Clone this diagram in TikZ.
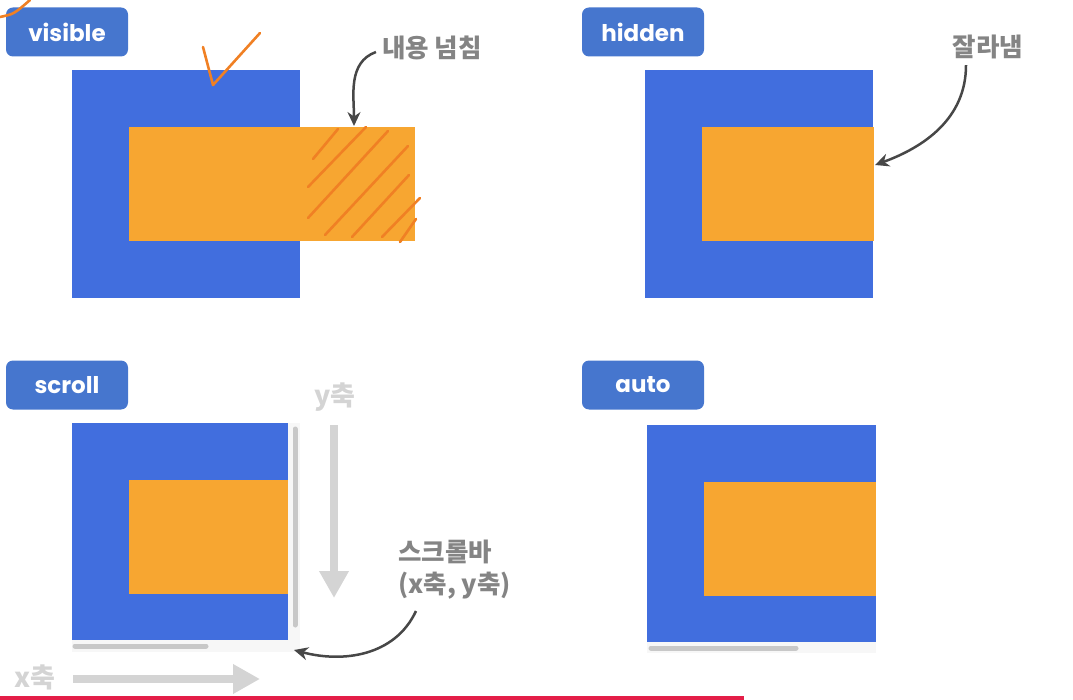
\documentclass[tikz,border=0pt]{standalone}
\usepackage{fontspec}
\setmainfont{Noto Sans CJK KR}
\newfontfamily\tagfont{Poppins}
\usetikzlibrary{positioning, arrows.meta}
\definecolor{tagblue}{RGB}{70,118,206}
\definecolor{boxblue}{RGB}{65,110,222}
\definecolor{boxorange}{RGB}{247,166,49}
\definecolor{notegray}{RGB}{132,132,132}
\definecolor{axisgray}{RGB}{212,212,212}
\definecolor{bargray}{RGB}{200,200,200}
\definecolor{panegray}{RGB}{247,247,247}
\definecolor{penorange}{RGB}{240,128,36}
\definecolor{barred}{RGB}{228,30,72}
\tikzset{
  tag/.style={
    rounded corners=7pt,
    fill=tagblue,
    text=white,
    minimum width=122pt,
    minimum height=49pt,
    inner sep=0pt,
    font=\tagfont\bfseries\fontsize{23}{25}\selectfont
  },
  outer/.style={
    fill=boxblue,
    anchor=north west,
    inner sep=0pt,
    minimum width=228pt,
    minimum height=228pt
  },
  inner/.style={
    fill=boxorange,
    anchor=north west,
    inner sep=0pt,
    minimum height=114pt
  },
  note/.style={
    text=notegray,
    inner sep=2pt,
    font=\bfseries\fontsize{25.5}{32}\selectfont
  },
  axisnote/.style={
    text=axisgray,
    inner sep=0pt,
    font=\bfseries\fontsize{27}{28}\selectfont
  },
  pointer/.style={
    draw=black!72,
    line width=2.5pt,
    -{Stealth[length=14pt,width=13pt]}
  },
  axisarrow/.style={
    draw=axisgray,
    line width=8pt,
    -{Triangle[length=27pt,width=28pt]}
  },
  bar/.style={
    draw=bargray,
    line width=5pt,
    line cap=round
  },
  pen/.style={
    draw=penorange,
    line width=2.6pt,
    line cap=round,
    line join=round
  }
}
\begin{document}
\begin{tikzpicture}[x=1pt, y=-1pt]
\useasboundingbox (0,0) rectangle (1073,700);

% visible
\node[tag] (TagVis) at (67,32) {visible};
\node[outer] (OutVis) at (72,70) {};
\node[inner, minimum width=286pt] (InVis) at (129,127) {};
\node[note] (NoteVis) at (432,48) {내용 넘침};
\coordinate (TipVis) at (354,126);
\path (NoteVis.west) ++(-4,4) coordinate (StartVis);
\path (StartVis) edge[pointer, out=200, in=90] (TipVis);
\draw[pen] (313,159) -- (338,129)
           (308,187) -- (366,127)
           (308,218) -- (388,131)
           (325,235) -- (408,146)
           (352,237) -- (409,175)
           (382,237) -- (420,198)
           (400,242) -- (416,219);
\draw[pen] (203,47) -- (213,85) -- (260,33);
\draw[pen] (0,17) .. controls (14,14) .. (30,0);

% hidden
\node[tag] (TagHid) at (643,32) {hidden};
\node[outer] (OutHid) at (645,70) {};
\node[inner, minimum width=172pt] (InHid) at (702,127) {};
\node[note] (NoteHid) at (988,47) {잘라냄};
\coordinate (TipHid) at (875,165);
\path (NoteHid.south) ++(-22,4) coordinate (StartHid);
\path (StartHid) edge[pointer, out=-90, in=20] (TipHid);

% scroll
\node[tag] (TagScr) at (67,385) {scroll};
\fill[panegray] (72,423) rectangle (300,652);
\node[outer, minimum width=216pt, minimum height=217pt] (OutScr) at (72,423) {};
\node[inner, minimum width=159pt] (InScr) at (129,480) {};
\draw[bar] (295,429) -- (295,625);
\draw[bar] (75,646) -- (206,646);
\node[axisnote] (YLabel) at (335,397) {y축};
\coordinate (YStart) at (334,425);
\coordinate (YEnd) at (334,598);
\path (YStart) edge[axisarrow] (YEnd);
\node[axisnote] (XLabel) at (35,677) {x축};
\coordinate (XStart) at (73,679);
\coordinate (XEnd) at (260,679);
\path (XStart) edge[axisarrow] (XEnd);
\node[note, align=left, anchor=north west] (NoteScr) at (396,538) {스크롤바\\(x축, y축)};
\coordinate (StartScr) at (416,611);
\coordinate (TipScr) at (294,650);
\path (StartScr) edge[pointer, out=-115, in=-15] (TipScr);

% auto
\node[tag] (TagAut) at (643,385) {auto};
\fill[panegray] (647,425) rectangle (876,653);
\node[outer, minimum width=229pt, minimum height=217pt] (OutAut) at (647,425) {};
\node[inner, minimum width=172pt] (InAut) at (704,482) {};
\draw[bar] (651,648) -- (796,648);

\fill[barred] (0,696) rectangle (744,700);
\end{tikzpicture}
\end{document}
